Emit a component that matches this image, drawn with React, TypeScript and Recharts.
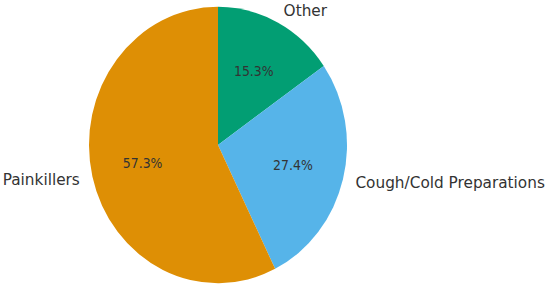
import { Pie, PieChart, Cell } from 'recharts';

// slice data, clockwise from 12 o'clock
const categories = ['Other', 'Cough/Cold Preparations', 'Painkillers'];
const shares = [15.3, 27.4, 57.3];
const colors = ['#029E73', '#56B4E9', '#DE8F05'];

const data = categories.map((name, i) => ({ name, value: shares[i] }));

const RADIAN = Math.PI / 180;

// the reference is slightly stretched vertically, so draw on a shorter canvas and scale it
const WIDTH = 550;
const HEIGHT = 268;
const STRETCH = 287 / HEIGHT;

const renderLabel = (props: any) => {
	const { cx, cy, midAngle, outerRadius, name, value } = props;
	const cos = Math.cos(-midAngle * RADIAN);
	const sin = Math.sin(-midAngle * RADIAN);
	// percent label inside the slice
	const ix = cx + outerRadius * 0.6 * cos;
	const iy = cy + outerRadius * 0.6 * sin;
	// category label outside
	const ox = cx + outerRadius * 1.1 * cos;
	const oy = cy + outerRadius * 1.1 * sin;
	return (
		<g>
			<text
				x={ix}
				y={iy}
				fill='#333333'
				fontSize={12.5}
				textAnchor='middle'
				dominantBaseline='central'
			>
				{`${value.toFixed(1)}%`}
			</text>
			<text
				x={ox}
				y={oy}
				fill='#333333'
				fontSize={15.3}
				textAnchor={cos >= 0 ? 'start' : 'end'}
				dominantBaseline='central'
			>
				{name}
			</text>
		</g>
	);
};

export default function App() {
	return (
		<div
			style={{
				position: 'absolute',
				left: 0,
				top: 0,
				width: WIDTH,
				height: HEIGHT,
				transform: `scaleY(${STRETCH})`,
				transformOrigin: 'top left',
				fontFamily: '"DejaVu Sans", sans-serif',
			}}
		>
			<PieChart width={WIDTH} height={HEIGHT} margin={{ top: 0, right: 0, bottom: 0, left: 0 }}>
				<Pie
					data={data}
					dataKey='value'
					nameKey='name'
					cx={218}
					cy={135.4}
					outerRadius={129}
					startAngle={90}
					endAngle={-270}
					stroke='none'
					label={renderLabel}
					labelLine={false}
					isAnimationActive={false}
				>
					{data.map((d, i) => (
						<Cell key={d.name} fill={colors[i]} />
					))}
				</Pie>
			</PieChart>
		</div>
	);
}
